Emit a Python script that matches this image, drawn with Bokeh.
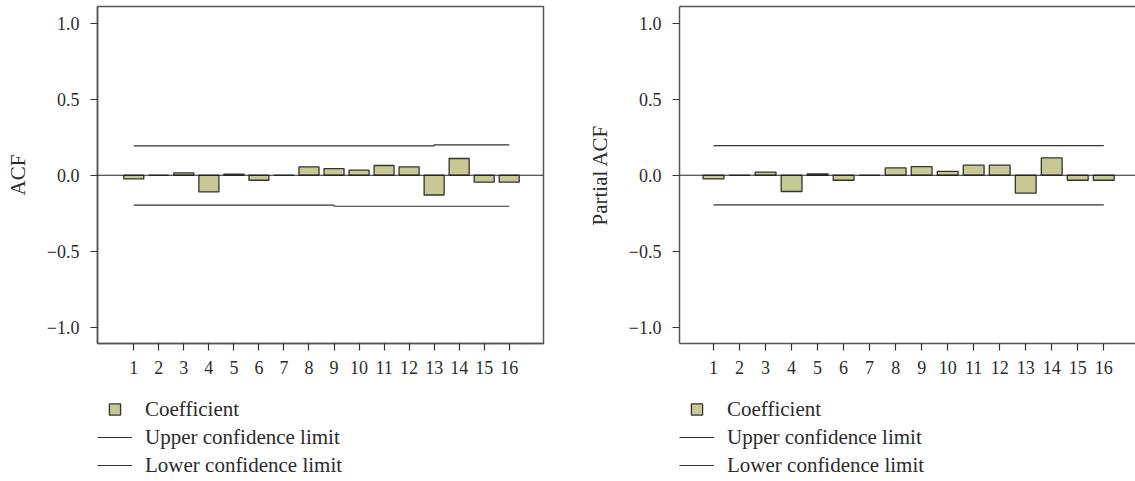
from bokeh.plotting import figure
from bokeh.layouts import row, column
from bokeh.models import Range1d, FixedTicker, Span, Legend, LegendItem, LinearAxis, ColumnDataSource
from bokeh.embed import file_html
from bokeh.resources import INLINE

# ---- data ----
lags = [1, 2, 3, 4, 5, 6, 7, 8, 9, 10, 11, 12, 13, 14, 15, 16]
acf = [-0.024, 0.0, 0.015, -0.11, 0.007, -0.033, 0.0, 0.055, 0.044, 0.033, 0.064, 0.055, -0.13, 0.11, -0.046, -0.046]
acf_upper = [0.193, 0.193, 0.193, 0.193, 0.193, 0.193, 0.193, 0.193, 0.193, 0.193, 0.193, 0.193, 0.2, 0.2, 0.2, 0.2]
acf_lower = [-0.197, -0.197, -0.197, -0.197, -0.197, -0.197, -0.197, -0.197, -0.204, -0.204, -0.204, -0.204, -0.204, -0.204, -0.204, -0.204]
pacf = [-0.024, 0.0, 0.02, -0.107, 0.009, -0.033, 0.0, 0.048, 0.057, 0.026, 0.066, 0.066, -0.118, 0.114, -0.033, -0.033]
pacf_upper = [0.195, 0.195, 0.195, 0.195, 0.195, 0.195, 0.195, 0.195, 0.195, 0.195, 0.195, 0.195, 0.195, 0.195, 0.195, 0.195]
pacf_lower = [-0.195, -0.195, -0.195, -0.195, -0.195, -0.195, -0.195, -0.195, -0.195, -0.195, -0.195, -0.195, -0.195, -0.195, -0.195, -0.195]
y_ticks = [-1.0, -0.5, 0.0, 0.5, 1.0]
y_tick_labels = ["\u22121.0", "\u22120.5", "0.0", "0.5", "1.0"]
legend_labels = ["Coefficient", "Upper confidence limit", "Lower confidence limit"]

FONT = "Liberation Serif"
TXT = "#2b2b2b"
FRAME = "#555555"
BAR_FILL = "#c7c893"
BAR_LINE = "#333333"
LIM = "#333333"


def panel(vals, upper, lower, ylabel, border_left, frame_w, border_right, x0, x1, outline, ylab_standoff):
    p = figure(frame_width=frame_w, frame_height=337,
               min_border_left=border_left, min_border_right=border_right,
               min_border_top=6, min_border_bottom=40,
               x_range=Range1d(x0, x1), y_range=Range1d(-1.107, 1.11),
               output_backend="svg", toolbar_location=None)
    p.background_fill_color = "white"
    p.border_fill_color = "white"
    p.xgrid.visible = False
    p.ygrid.visible = False
    xax = p.below[0]
    yax = p.left[0]
    if outline:
        p.outline_line_color = FRAME
        p.outline_line_width = 1.5
    else:
        p.outline_line_color = None
        top = LinearAxis(ticker=FixedTicker(ticks=[]), axis_line_color=FRAME, axis_line_width=1.5,
                         major_tick_line_color=None, minor_tick_line_color=None,
                         major_tick_out=0, major_tick_in=0, major_label_standoff=0,
                         major_label_text_font_size="0px")
        p.add_layout(top, "above")

    src = ColumnDataSource(dict(lag=lags, val=vals, up=upper, lo=lower))
    p.vbar(x="lag", top="val", bottom=0, width=0.8, source=src,
           fill_color=BAR_FILL, line_color=BAR_LINE, line_width=1.3)
    p.step(x="lag", y="up", source=src, mode="after", line_color=LIM, line_width=1.1)
    p.step(x="lag", y="lo", source=src, mode="after", line_color=LIM, line_width=1.1)
    p.add_layout(Span(location=0, dimension="width", line_color="#222222", line_width=1.1))

    for ax in (xax, yax):
        ax.axis_line_color = FRAME
        ax.axis_line_width = 1.5
        ax.major_tick_line_color = "#333333"
        ax.major_tick_line_width = 1.2
        ax.major_tick_out = 7
        ax.major_tick_in = 0
        ax.minor_tick_line_color = None
        ax.major_label_text_font = FONT
        ax.major_label_text_font_size = "18px"
        ax.major_label_text_color = TXT
    xax.ticker = FixedTicker(ticks=lags)
    xax.major_label_standoff = 10
    yax.ticker = FixedTicker(ticks=y_ticks)
    yax.major_label_overrides = {t: s for t, s in zip(y_ticks, y_tick_labels)}
    yax.major_label_standoff = 11
    yax.axis_label = ylabel
    yax.axis_label_text_font = FONT
    yax.axis_label_text_font_style = "normal"
    yax.axis_label_text_font_size = "21px"
    yax.axis_label_text_color = TXT
    yax.axis_label_standoff = ylab_standoff
    return p


def legend_fig(width, border_left):
    q = figure(width=width, height=98, min_border_left=border_left, min_border_right=0,
               min_border_top=0, min_border_bottom=0,
               x_axis_location=None, y_axis_location=None,
               x_range=Range1d(0, 1), y_range=Range1d(0, 1),
               output_backend="svg", toolbar_location=None)
    q.grid.visible = False
    q.outline_line_color = None
    q.background_fill_color = "white"
    q.border_fill_color = "white"
    # legend-only stand-ins, kept outside the visible range
    r_sq = q.scatter(x=[-5], y=[-5], marker="square", fill_color=BAR_FILL, line_color=BAR_LINE, line_width=1.3)
    r_up = q.line(x=[-5, -4], y=[-5, -5], line_color=LIM, line_width=1.1)
    r_lo = q.line(x=[-5, -4], y=[-5, -5], line_color=LIM, line_width=1.1)
    leg = Legend(items=[LegendItem(label=legend_labels[0], renderers=[r_sq]),
                        LegendItem(label=legend_labels[1], renderers=[r_up]),
                        LegendItem(label=legend_labels[2], renderers=[r_lo])],
                 location=(0, 2), orientation="vertical",
                 glyph_width=35, glyph_height=28, label_height=28, label_standoff=13,
                 spacing=0, padding=0, margin=0,
                 border_line_color=None, background_fill_alpha=0,
                 label_text_font=FONT, label_text_font_size="21px", label_text_color=TXT)
    q.add_layout(leg, "center")
    return q


left = panel(acf, acf_upper, acf_lower, "ACF", 97, 446, 17, -0.45, 17.37, True, 14)
right = panel(pacf, pacf_upper, pacf_lower, "Partial ACF", 119, 456, 0, -0.308, 17.22, False, 14)
left_leg = legend_fig(560, 97)
right_leg = legend_fig(575, 119)

layout = row(column(left, left_leg, spacing=0), column(right, right_leg, spacing=0), spacing=0)
open("out.html", "w").write(file_html(layout, INLINE))
